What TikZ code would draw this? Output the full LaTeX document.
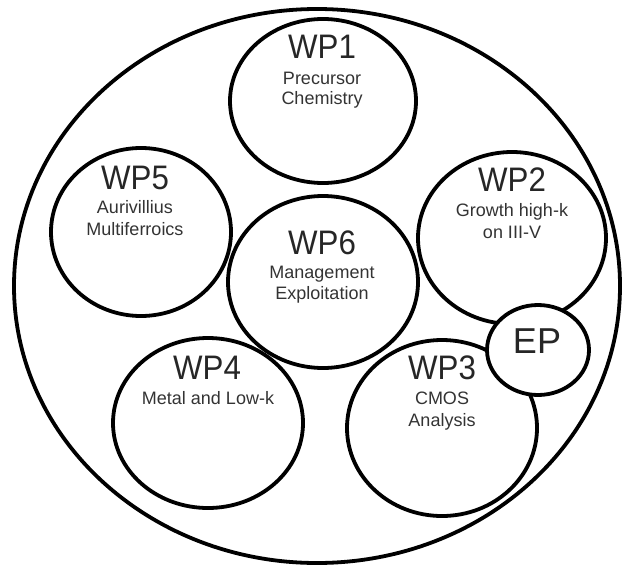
\documentclass[tikz,border=0pt]{standalone}
\usepackage{fontspec}
\usepackage{graphicx}
\setmainfont{Liberation Sans}
\usetikzlibrary{shapes.geometric}
\tikzset{
  ring/.style={draw=black, line width=3.8pt, ellipse, inner sep=0pt},
  wptitle/.style={anchor=base, inner sep=0pt, text=black!85, font=\fontsize{34}{34}\selectfont},
  wpsub/.style={anchor=base, inner sep=0pt, text=black!80, font=\fontsize{18}{18}\selectfont},
}
\newcommand{\ttl}[1]{\scalebox{0.92}[1]{#1}}
\begin{document}
\begin{tikzpicture}[x=1pt,y=-1pt]
\useasboundingbox (0,0) rectangle (623,567);
% rings
\node[ring, minimum width=606pt, minimum height=554pt] (outer) at (317,286) {};
\node[ring, minimum width=186pt, minimum height=164pt] (wp1) at (323,101) {};
\node[ring, minimum width=180pt, minimum height=168pt] (wp5) at (141,232) {};
\node[ring, minimum width=188pt, minimum height=172pt] (wp2) at (512,238) {};
\node[ring, minimum width=190pt, minimum height=172pt] (wp6) at (323,282) {};
\node[ring, minimum width=190pt, minimum height=170pt] (wp4) at (208,423) {};
\node[ring, minimum width=190pt, minimum height=176pt] (wp3) at (442,428) {};
\node[ring, fill=white, minimum width=102pt, minimum height=90pt] (ep) at (538,350) {};
% labels
\node[wptitle] (t1) at (322,59) {\ttl{WP1}};
\node[wpsub] (s1a) at (322,84.5) {Precursor};
\node[wpsub] (s1b) at (322,104.5) {Chemistry};
\node[wptitle] (t5) at (135,189) {\ttl{WP5}};
\node[wpsub] (s5a) at (135,213.5) {Aurivillius};
\node[wpsub] (s5b) at (135,235.5) {Multiferroics};
\node[wptitle] (t2) at (512,191) {\ttl{WP2}};
\node[wpsub] (s2a) at (512,216.5) {Growth high-k};
\node[wpsub] (s2b) at (512,238.5) {on III-V};
\node[wptitle] (t6) at (322,254) {\ttl{WP6}};
\node[wpsub] (s6a) at (322,278.5) {Management};
\node[wpsub] (s6b) at (322,299.5) {Exploitation};
\node[wptitle] (t4) at (207,379) {\ttl{WP4}};
\node[wpsub] (s4a) at (208,404.5) {Metal and Low-k};
\node[wptitle] (t3) at (442,379) {\ttl{WP3}};
\node[wpsub] (s3a) at (442,404.5) {CMOS};
\node[wpsub] (s3b) at (442,426.5) {Analysis};
\node[wptitle, font=\fontsize{36}{36}\selectfont] (tep) at (537,353) {EP};
\end{tikzpicture}
\end{document}
